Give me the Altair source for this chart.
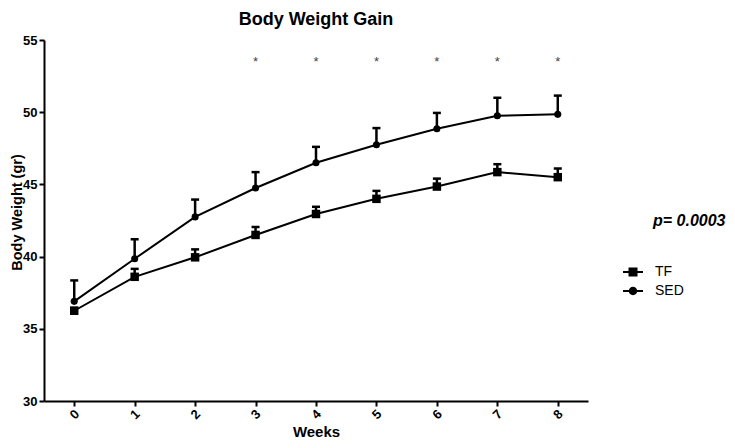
import altair as alt
import pandas as pd

weeks = [0, 1, 2, 3, 4, 5, 6, 7, 8]
tf_mean = [36.25, 38.6, 39.95, 41.5, 42.95, 44.0, 44.85, 45.85, 45.5]
tf_sem = [0.2, 0.55, 0.55, 0.55, 0.5, 0.55, 0.55, 0.55, 0.6]
sed_mean = [36.9, 39.85, 42.75, 44.75, 46.5, 47.75, 48.85, 49.75, 49.85]
sed_sem = [1.45, 1.35, 1.2, 1.1, 1.1, 1.15, 1.1, 1.25, 1.3]
groups = ["TF", "SED"]
star_weeks = [3, 4, 5, 6, 7, 8]
star_level = 53.6
y_ticks = [30, 35, 40, 45, 50, 55]
p_label = "p= 0.0003"
chart_title = "Body Weight Gain"

rows = []
for g, m, s in (("TF", tf_mean, tf_sem), ("SED", sed_mean, sed_sem)):
    for w, mm, ss in zip(weeks, m, s):
        rows.append({"week": w, "group": g, "mean": mm, "upper": round(mm + ss, 3)})
df = pd.DataFrame(rows)
stars = pd.DataFrame({"week": star_weeks, "y": [star_level] * len(star_weeks)})
ptext = pd.DataFrame({"t": [p_label]})
ttext = pd.DataFrame({"t": [chart_title]})

FONT = "Liberation Sans"
xs = alt.Scale(domain=[-0.5, 8.5], nice=False, zero=False)
ys = alt.Scale(domain=[30, 55], nice=False, zero=False)
xaxis = alt.Axis(values=weeks, title="Weeks", labelAngle=315, labelAlign="center",
                 labelBaseline="middle", labelPadding=8, titleX=272, titleY=35,
                 titleBaseline="alphabetic")
yaxis = alt.Axis(values=y_ticks, title="Body Weight (gr)", titleAngle=270, titleX=-27,
                 titleY=172, titleBaseline="middle", titleAlign="center", labelPadding=2,
                 titleFontSize=14.5)

def X():
    return alt.X("week:Q", scale=xs, axis=xaxis)

def Y(f):
    return alt.Y(f, scale=ys, axis=yaxis)

base = alt.Chart(df)

tf_path = "M-1,-0.1H1V0.1H-1Z M-0.45,-0.45H0.45V0.45H-0.45Z"
sed_path = "M-1,-0.1H1V0.1H-1Z M-0.42,0A0.42,0.42 0 1,1 0.42,0A0.42,0.42 0 1,1 -0.42,0Z"

legend_layer = base.mark_point(filled=True, size=1, color="black", opacity=1).encode(
    x=X(), y=Y("mean:Q"),
    shape=alt.Shape("group:N", scale=alt.Scale(domain=groups, range=[tf_path, sed_path]),
                    legend=alt.Legend(title=None, orient="none", legendX=579, legendY=222,
                                      symbolSize=400, symbolFillColor="black",
                                      symbolStrokeWidth=0, labelOffset=12, rowPadding=2,
                                      padding=0, labelFont=FONT, labelFontSize=14,
                                      labelColor="black", labelFontWeight="normal")))

lines = base.mark_line(color="black", strokeWidth=2).encode(
    x=X(), y=Y("mean:Q"), detail="group:N")
err = base.mark_rule(color="black", strokeWidth=2.5).encode(
    x=X(), y=Y("mean:Q"), y2="upper:Q")
caps = base.mark_tick(color="black", orient="horizontal", size=8, thickness=2.5, opacity=1).encode(
    x=X(), y=Y("upper:Q"))
squares = base.transform_filter(alt.datum.group == "TF").mark_square(
    size=72, color="black", opacity=1).encode(x=X(), y=Y("mean:Q"))
circles = base.transform_filter(alt.datum.group == "SED").mark_circle(
    size=50, color="black", opacity=1).encode(x=X(), y=Y("mean:Q"))
star_layer = alt.Chart(stars).mark_text(text="*", fontSize=13, color="#444444", font=FONT,
                                        baseline="middle", dy=2).encode(
    x=X(), y=Y("y:Q"))
p_layer = alt.Chart(ptext).mark_text(font=FONT, fontSize=16, fontWeight="bold",
                                     fontStyle="italic", align="left",
                                     baseline="alphabetic", color="black").encode(
    text="t:N", x=alt.value(609), y=alt.value(186))
title_layer = alt.Chart(ttext).mark_text(font=FONT, fontSize=18, fontWeight="bold",
                                         align="center", baseline="alphabetic",
                                         color="black").encode(
    text="t:N", x=alt.value(272), y=alt.value(-15))

chart = alt.layer(legend_layer, lines, err, caps, squares, circles, star_layer, p_layer,
                  title_layer).properties(
    width=544, height=361,
    autosize=alt.AutoSizeParams(type="none"),
    padding={"left": 36, "top": 32, "right": 139, "bottom": 39},
).configure_view(stroke=None).configure_axis(
    grid=False, domainColor="black", domainWidth=2, tickColor="black", tickWidth=2,
    tickSize=5, labelColor="black", labelFont=FONT, labelFontSize=13,
    labelFontWeight="bold", titleFont=FONT, titleFontSize=15, titleFontWeight="bold",
    titleColor="black")

chart.save("out.html", embed_options={"renderer": "svg", "actions": False})
